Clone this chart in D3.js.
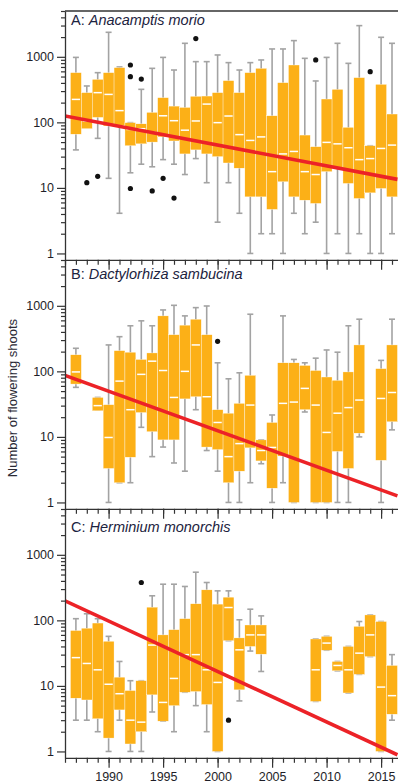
<!DOCTYPE html>
<html>
<head>
<meta charset="utf-8">
<script src="https://cdn.jsdelivr.net/npm/d3@7"></script>
<style>
  body { margin: 0; background: #fff; }
  svg { display: block; }
</style>
</head>
<body>
<div class="container"></div>
<script>
// survey years, one box per year (null = no data that year)
const years = d3.range(1987, 2017);

// A: Anacamptis morio
const lowA  = [38, 85, 57, 14, 4.1, 17, 23, 21, 27, 23, 16, 28, 12, 3, 12, 4.1, 1, 2, 2, 1, 4.1, 2, 3, 1, 2, 1, 2, 1, 1, 2];
const q1A   = [66, 80, 119, 88, 90, 44, 47, 50, 60, 52, 33, 38, 33, 30, 24, 20, 7.3, 7.3, 4.7, 12.4, 7.3, 6.5, 5.8, 17.7, 20, 11.7, 6.9, 8.4, 9.8, 7.3];
const medA  = [224, 105, 284, 267, 151, 78, 80, 70, 126, 106, 76, 105, 190, 99, 125, 65, 53, 60, 17.7, 33, 36, 17.7, 16, 49.5, 47, 41, 27, 28, 40, 45];
const q3A   = [573, 284, 453, 573, 684, 99, 95, 142, 238, 177, 169, 250, 252, 284, 433, 284, 573, 667, 126, 403, 750, 64, 42.5, 227, 319, 84, 481, 44, 380, 134];
const highA = [980, 359, 573, 2366, 700, 99, 319, 667, 980, 629, 1607, 844, 844, 1067, 815, 629, 815, 895, 1318, 1318, 1766, 948, 428, 980, 1607, 795, 2990, 44, 1985, 1607];
const outA  = [[1988, 12], [1989, 15], [1992, 750], [1992, 498], [1992, 9.8], [1993, 458], [1994, 9], [1995, 14], [1996, 7], [1998, 1900], [2009, 895], [2014, 594]];
const trendA = [125, 13.5];

// B: Dactylorhiza sambucina
const lowB  = [57, null, 26, 1, 2, 2, 14, 5, 7, 4, 3, 26, 6.2, 3, 1, 1, 2, 3.9, 1, 2, 1, 24, 1, 1, 1, 1, 10, null, 1, 12.8];
const q1B   = [64, null, 25, 3.3, 2, 4.9, 23.5, 12, 9, 9, 38, 41, 7, 6.4, 2, 3, 6.8, 4.3, 1.65, 5.1, 1, 26, 1, 1, 6, 3.3, 11.4, null, 4.4, 17];
const medB  = [98, null, 30, 9.8, 71, 26, 90, 143, 103, 40, 100, 253, 41, 16.6, 5, 7.9, 30.6, 6.2, 6.9, 32.5, 34, 55, 30.6, 11.7, 23, 28, 36.5, null, 38.6, 47.6];
const q3B   = [179, null, 40, 31, 207, 196, 152, 191, 702, 362, 507, 625, 362, 26, 23, 32.5, 87, 9, 16.6, 135, 135, 123, 103, 82, 73, 98, 253, null, 110, 253];
const highB = [225, null, 40, 253, 338, 496, 590, 496, 865, 1018, 702, 938, 994, 135, 77, 95, 744, 9, 21.6, 702, 152, 135, 159, 212, 196, 496, 625, null, 147, 625];
const outB  = [[2000, 287]];
const trendB = [87, 1.26];

// C: Herminium monorchis
const lowC  = [3, 3, 2, 1, 3, 1, 1, 4, 2.9, 2, 8, 5, 2, 1, 49, 5.9, 34, 16.6, null, null, null, null, 5.8, 35, 17, 7.8, 15, 28, 1, 3];
const q1C   = [6.5, 6.1, 3.15, 1.6, 4.3, 1.3, 2, 7.3, 2.9, 5, 8, 8.2, 5.2, 1, 49, 8.7, 40, 30.5, null, null, null, null, 5.8, 35, 17, 7.8, 15, 28, 1, 3.7];
const medC  = [27, 22, 17.6, 10.6, 7.6, 3, 2.8, 42, 5.6, 13, 30, 30, 17.6, 11.3, 157, 35.5, 60, 60, null, null, null, null, 17.6, 45, 20.5, 17.6, 31.6, 60, 9.6, 7.1];
const q3C   = [70, 76, 91, 48, 13.6, 8.5, 12, 159, 60, 72, 106, 179, 292, 177, 226, 54, 85, 85, null, null, null, null, 52, 57, 23.6, 40, 81, 121, 96, 20.5];
const highC = [106, 126, 106, 57, 23.6, 12, 12, 237, 356, 356, 329, 543, 378, 282, 282, 102, 148, 117, null, null, null, null, 52, 57, 23.6, 40, 96, 121, 96, 30];
const outC  = [[1993, 378], [2001, 3]];
const trendC = [199, 0.89];

const trendYears = [1986, 2016.5];
const yearLabels = [1990, 1995, 2000, 2005, 2010, 2015];
const majorTicks = [1, 10, 100, 1000];

const panels = [
  { letter: "A", name: "Anacamptis morio", low: lowA, q1: q1A, med: medA, q3: q3A, high: highA, out: outA, trend: trendA, top: 11, titleY: 25 },
  { letter: "B", name: "Dactylorhiza sambucina", low: lowB, q1: q1B, med: medB, q3: q3B, high: highB, out: outB, trend: trendB, top: 260, titleY: 279 },
  { letter: "C", name: "Herminium monorchis", low: lowC, q1: q1C, med: medC, q3: q3C, high: highC, out: outC, trend: trendC, top: 509, titleY: 532 }
];

const width = 398;
const height = 783;
const left = 65;
const panelH = 248.8;
const font = "'Liberation Sans', Arial, sans-serif";
const orange = "#fcb017";

const svg = d3.select(".container").append("svg")
  .attr("width", width)
  .attr("height", height);

const x = d3.scaleLinear()
  .domain([1986, 2016.55])
  .range([left, width]);

// minor log ticks 2..9 for each decade up to 5000
const minorTicks = [];
[1, 10, 100, 1000].forEach(d => d3.range(2, 10).forEach(k => { if (d * k <= 5000) minorTicks.push(d * k); }));

panels.forEach((p, i) => {
  const bottom = p.top + panelH;
  const y = d3.scaleLog()
    .domain([0.8, 5000])
    .range([bottom, p.top]);

  const g = svg.append("g");

  const rows = years.map((yr, j) => ({ year: yr, low: p.low[j], q1: p.q1[j], med: p.med[j], q3: p.q3[j], high: p.high[j] }))
    .filter(d => d.q1 != null);

  // whiskers
  const wg = g.append("g")
    .attr("stroke", "#a3a3a3")
    .attr("stroke-width", 1.6);
  wg.selectAll(".stem")
    .data(rows)
    .enter()
    .append("line")
    .attr("x1", d => x(d.year))
    .attr("x2", d => x(d.year))
    .attr("y1", d => y(d.low))
    .attr("y2", d => y(d.high));
  ["low", "high"].forEach(k => {
    wg.selectAll(".cap-" + k)
      .data(rows)
      .enter()
      .append("line")
      .attr("x1", d => x(d.year) - 3)
      .attr("x2", d => x(d.year) + 3)
      .attr("y1", d => y(d[k]))
      .attr("y2", d => y(d[k]));
  });

  // boxes
  g.append("g")
    .selectAll("rect")
    .data(rows)
    .enter()
    .append("rect")
    .attr("x", d => x(d.year - 0.5))
    .attr("width", d => x(d.year + 0.5) - x(d.year - 0.5))
    .attr("y", d => y(d.q3))
    .attr("height", d => Math.max(1, y(d.q1) - y(d.q3)))
    .attr("fill", orange)
    .attr("stroke", "#fff")
    .attr("stroke-width", 0.35);

  // medians
  g.append("g")
    .selectAll("line")
    .data(rows)
    .enter()
    .append("line")
    .attr("x1", d => x(d.year - 0.38))
    .attr("x2", d => x(d.year + 0.38))
    .attr("y1", d => y(d.med))
    .attr("y2", d => y(d.med))
    .attr("stroke", "#fff")
    .attr("stroke-width", 1.5);

  // trend line, clipped to the panel
  svg.append("clipPath")
    .attr("id", "clip" + i)
    .append("rect")
    .attr("x", left)
    .attr("y", p.top)
    .attr("width", width - left)
    .attr("height", panelH);

  const line = d3.line()
    .x(d => x(d[0]))
    .y(d => y(d[1]));

  g.append("path")
    .datum(trendYears.map((yr, j) => [yr, p.trend[j]]))
    .attr("clip-path", `url(#clip${i})`)
    .attr("fill", "none")
    .attr("stroke", "#ec2227")
    .attr("stroke-width", 3.6)
    .attr("d", line);

  // outliers
  g.append("g")
    .selectAll("circle")
    .data(p.out)
    .enter()
    .append("circle")
    .attr("cx", d => x(d[0]))
    .attr("cy", d => y(d[1]))
    .attr("r", 2.6)
    .attr("fill", "#111");

  // y axis: major + minor ticks
  const ya = svg.append("g")
    .attr("transform", `translate(${left},0)`)
    .call(d3.axisLeft(y).tickValues(majorTicks).tickSize(8).tickSizeOuter(0).tickFormat(d3.format("d")));
  svg.append("g")
    .attr("transform", `translate(${left},0)`)
    .call(d3.axisLeft(y).tickValues(minorTicks).tickSize(4).tickSizeOuter(0).tickFormat(""))
    .select(".domain").remove();
  ya.selectAll("text")
    .attr("x", -11)
    .attr("font-size", 12.5)
    .attr("font-family", font)
    .attr("fill", "#1e1e28");

  // x axis: yearly ticks, longer every 5 years
  const xa = svg.append("g")
    .attr("transform", `translate(0,${bottom})`)
    .call(d3.axisBottom(x).tickValues(d3.range(1986, 2017)).tickSize(5).tickSizeOuter(0).tickFormat(""));
  const xm = svg.append("g")
    .attr("transform", `translate(0,${bottom})`)
    .call(d3.axisBottom(x).tickValues(yearLabels).tickSize(10).tickSizeOuter(0).tickFormat(i === 2 ? d3.format("d") : ""));
  xm.select(".domain").remove();
  xm.selectAll("text")
    .attr("y", 14)
    .attr("font-size", 12.5)
    .attr("font-family", font)
    .attr("fill", "#1e1e28");

  [ya, xa, xm].forEach(a => a.selectAll("path, line").attr("stroke", "#333").attr("stroke-width", 1.3));
  svg.selectAll(".tick line").attr("stroke", "#333").attr("stroke-width", 1.2);

  // panel title
  const t = svg.append("text")
    .attr("x", left + 6)
    .attr("y", p.titleY)
    .attr("font-size", 14.5)
    .attr("font-family", font)
    .attr("fill", "#1c2340");
  t.append("tspan").text(p.letter + ": ");
  t.append("tspan").attr("font-style", "italic").text(p.name);
});

// top border of the first panel
svg.append("line")
  .attr("x1", left)
  .attr("x2", width)
  .attr("y1", panels[0].top)
  .attr("y2", panels[0].top)
  .attr("stroke", "#333")
  .attr("stroke-width", 1.3);

svg.append("text")
  .attr("transform", "translate(17,398) rotate(-90)")
  .attr("text-anchor", "middle")
  .attr("font-size", 13)
  .attr("font-family", font)
  .attr("fill", "#2a2a35")
  .text("Number of flowering shoots");
</script>
</body>
</html>
